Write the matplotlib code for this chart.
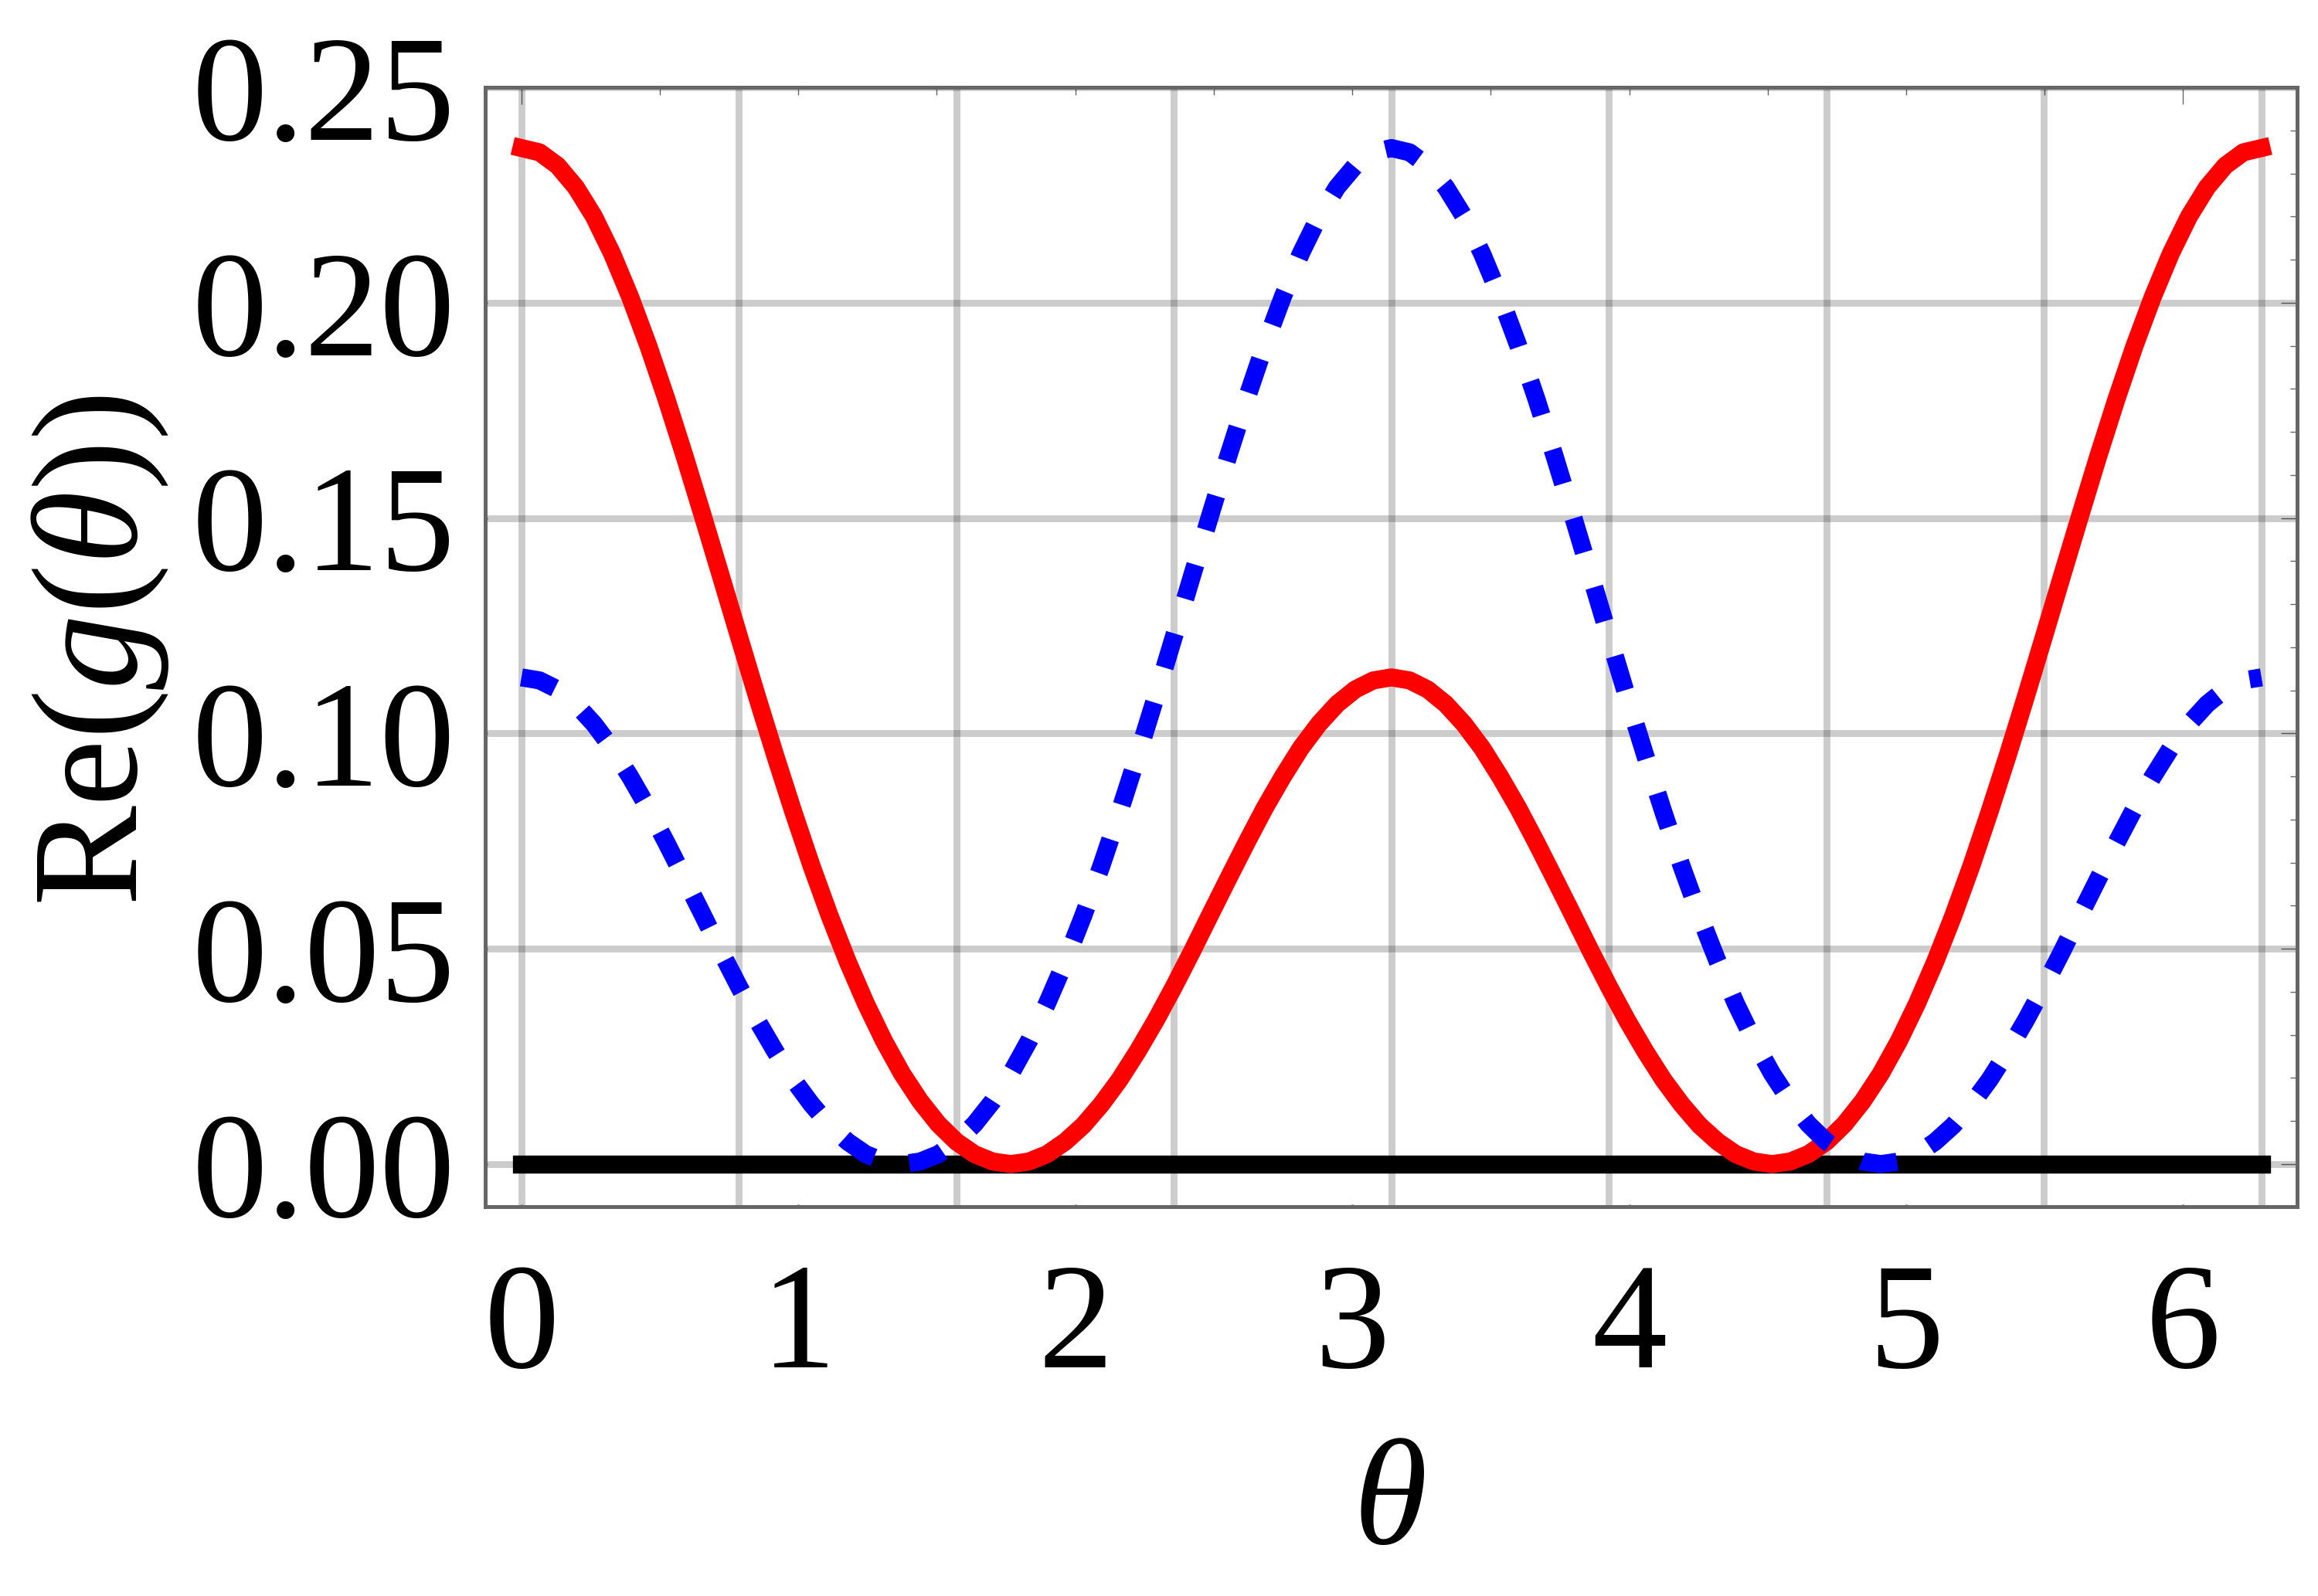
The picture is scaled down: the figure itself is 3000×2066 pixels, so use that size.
import numpy as np
import matplotlib
matplotlib.use('Agg')
import matplotlib.pyplot as plt
from matplotlib.ticker import FormatStrFormatter

# Step 1 : data
theta = [0.0000, 0.0654, 0.1309, 0.1963, 0.2618, 0.3272, 0.3927, 0.4581, 0.5236, 0.5890,
         0.6545, 0.7199, 0.7854, 0.8508, 0.9163, 0.9817, 1.0472, 1.1126, 1.1781, 1.2435,
         1.3090, 1.3744, 1.4399, 1.5053, 1.5708, 1.6362, 1.7017, 1.7671, 1.8326, 1.8980,
         1.9635, 2.0289, 2.0944, 2.1598, 2.2253, 2.2907, 2.3562, 2.4216, 2.4871, 2.5525,
         2.6180, 2.6834, 2.7489, 2.8143, 2.8798, 2.9452, 3.0107, 3.0761, 3.1416, 3.2070,
         3.2725, 3.3379, 3.4034, 3.4688, 3.5343, 3.5997, 3.6652, 3.7306, 3.7961, 3.8615,
         3.9270, 3.9924, 4.0579, 4.1233, 4.1888, 4.2542, 4.3197, 4.3851, 4.4506, 4.5160,
         4.5815, 4.6469, 4.7124, 4.7778, 4.8433, 4.9087, 4.9742, 5.0396, 5.1051, 5.1705,
         5.2360, 5.3014, 5.3669, 5.4323, 5.4978, 5.5632, 5.6287, 5.6941, 5.7596, 5.8250,
         5.8905, 5.9559, 6.0214, 6.0868, 6.1523, 6.2177, 6.2832]

# red solid curve
re_red = [0.2359, 0.2349, 0.2318, 0.2268, 0.2200, 0.2114, 0.2013, 0.1900, 0.1776, 0.1644,
          0.1506, 0.1366, 0.1225, 0.1085, 0.0949, 0.0818, 0.0693, 0.0577, 0.0470, 0.0373,
          0.0286, 0.0210, 0.0146, 0.0093, 0.0052, 0.0023, 0.0006, 0.0000, 0.0006, 0.0023,
          0.0052, 0.0090, 0.0139, 0.0196, 0.0262, 0.0334, 0.0412, 0.0494, 0.0579, 0.0663,
          0.0746, 0.0826, 0.0899, 0.0966, 0.1022, 0.1068, 0.1102, 0.1123, 0.1130, 0.1123,
          0.1102, 0.1068, 0.1022, 0.0966, 0.0899, 0.0826, 0.0746, 0.0663, 0.0579, 0.0494,
          0.0412, 0.0334, 0.0262, 0.0196, 0.0139, 0.0090, 0.0052, 0.0023, 0.0006, 0.0000,
          0.0006, 0.0023, 0.0052, 0.0093, 0.0146, 0.0210, 0.0286, 0.0373, 0.0470, 0.0577,
          0.0693, 0.0818, 0.0949, 0.1085, 0.1225, 0.1366, 0.1506, 0.1644, 0.1776, 0.1900,
          0.2013, 0.2114, 0.2200, 0.2268, 0.2318, 0.2349, 0.2359]

# blue dashed curve
re_blue = [0.1130, 0.1123, 0.1102, 0.1068, 0.1022, 0.0966, 0.0899, 0.0826, 0.0746, 0.0663,
           0.0579, 0.0494, 0.0412, 0.0334, 0.0262, 0.0196, 0.0139, 0.0090, 0.0052, 0.0023,
           0.0006, 0.0000, 0.0006, 0.0023, 0.0052, 0.0093, 0.0146, 0.0210, 0.0286, 0.0373,
           0.0470, 0.0577, 0.0693, 0.0818, 0.0949, 0.1085, 0.1225, 0.1366, 0.1506, 0.1644,
           0.1776, 0.1900, 0.2013, 0.2114, 0.2200, 0.2268, 0.2318, 0.2349, 0.2359, 0.2349,
           0.2318, 0.2268, 0.2200, 0.2114, 0.2013, 0.1900, 0.1776, 0.1644, 0.1506, 0.1366,
           0.1225, 0.1085, 0.0949, 0.0818, 0.0693, 0.0577, 0.0470, 0.0373, 0.0286, 0.0210,
           0.0146, 0.0093, 0.0052, 0.0023, 0.0006, 0.0000, 0.0006, 0.0023, 0.0052, 0.0090,
           0.0139, 0.0196, 0.0262, 0.0334, 0.0412, 0.0494, 0.0579, 0.0663, 0.0746, 0.0826,
           0.0899, 0.0966, 0.1022, 0.1068, 0.1102, 0.1123, 0.1130]

# black zero line
zero_theta = [0.0, 6.2832]
zero_val = [0.0, 0.0]

x_ticks = [0, 1, 2, 3, 4, 5, 6]
y_ticks = [0.00, 0.05, 0.10, 0.15, 0.20, 0.25]
x_grid = [0.0, 0.7854, 1.5708, 2.3562, 3.1416, 3.9270, 4.7124, 5.4978, 6.2832]

# Step 2 : style
plt.rcParams['font.family'] = ['Liberation Serif', 'DejaVu Serif']
plt.rcParams['mathtext.fontset'] = 'custom'
plt.rcParams['mathtext.rm'] = 'Liberation Serif'
plt.rcParams['mathtext.it'] = 'Liberation Serif:italic'
plt.rcParams['lines.scale_dashes'] = False

FS = 70
FRAME = '#666666'
LW = 8.4

fig = plt.figure(figsize=(15, 10.33), dpi=200)
ax = fig.add_axes([0.2093, 0.2439, 0.7817, 0.7014])

# grid, semi transparent like Mathematica
for g in x_grid:
    ax.axvline(g, color='k', alpha=0.2, lw=3.2, zorder=0.5)
for g in y_ticks:
    ax.axhline(g, color='k', alpha=0.2, lw=3.2, zorder=0.5)

# curves
ax.plot(zero_theta, zero_val, color='black', lw=LW, solid_capstyle='projecting', zorder=2)
ax.plot(theta, re_red, color='#ff0000', lw=LW, solid_capstyle='projecting',
        solid_joinstyle='round', zorder=3)
ax.plot(theta, re_blue, color='#0000ff', lw=LW, dashes=(16.6, 16.9),
        dash_capstyle='butt', dash_joinstyle='round', zorder=4)

ax.set_xlim(-0.131, 6.412)
ax.set_ylim(-0.0099, 0.25)

# frame
for s in ax.spines.values():
    s.set_color(FRAME)
    s.set_linewidth(1.8)
    s.set_zorder(5)

ax.set_xticks(x_ticks)
ax.set_yticks(y_ticks)
ax.yaxis.set_major_formatter(FormatStrFormatter('%.2f'))
ax.tick_params(axis='both', direction='in', length=1.1, width=1.1, color=FRAME,
               labelsize=FS)
ax.tick_params(axis='x', pad=26)
ax.tick_params(axis='y', pad=14)

# top / right frame ticks
top = ax.secondary_xaxis('top')
top.set_xticks([0, 6])
top.set_xticks(np.arange(0, 6.01, 0.5), minor=True)
top.tick_params(which='major', direction='in', length=7.9, width=0.5, color=FRAME,
                labeltop=False)
top.tick_params(which='minor', direction='in', length=3.6, width=0.5, color=FRAME)
top.spines['top'].set_visible(False)

right = ax.secondary_yaxis('right')
right.set_yticks(y_ticks)
right.set_yticks(np.arange(0, 0.2501, 0.01), minor=True)
right.tick_params(which='major', direction='in', length=7.6, width=0.5, color=FRAME,
                  labelright=False)
right.tick_params(which='minor', direction='in', length=3.3, width=0.5, color=FRAME)
right.spines['right'].set_visible(False)

# axis labels
ax.set_xlabel(r'$\theta$', fontsize=FS, va='center')
ax.xaxis.set_label_coords(0.4989, -0.2685)
ax.set_ylabel(r'$\mathrm{Re}(g(\theta))$', fontsize=FS, va='center')
ax.yaxis.set_label_coords(-0.2124, 0.4966)

fig.savefig('out.png', dpi=200)
